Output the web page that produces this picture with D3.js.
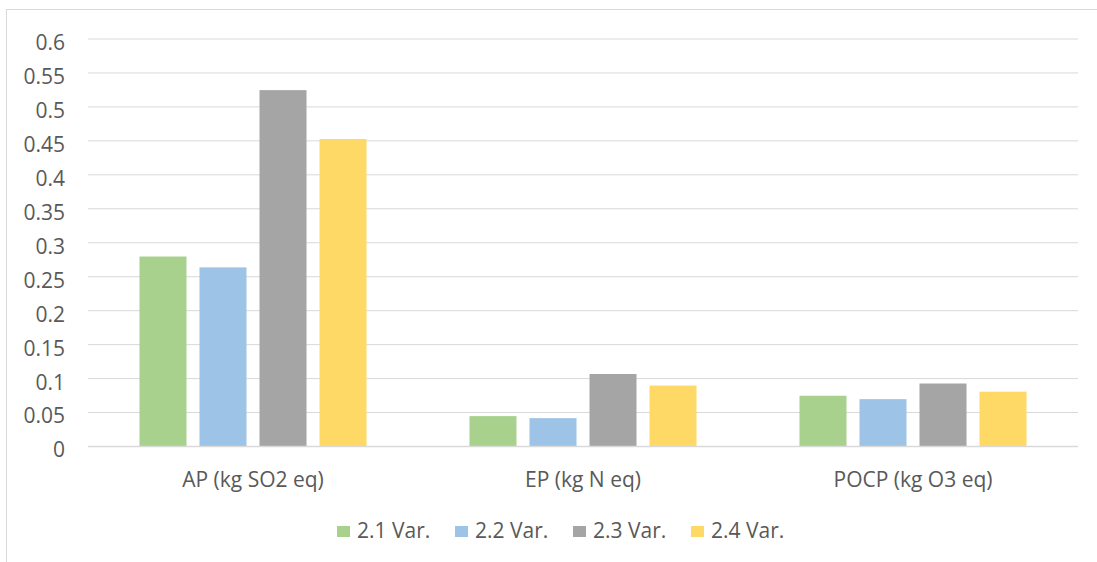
<!DOCTYPE html>
<html>
<head>
<meta charset="utf-8">
<script src="https://cdn.jsdelivr.net/npm/d3@7"></script>
<style>
  html, body { margin: 0; padding: 0; background: #fff; }
  svg { display: block; }
  text { font-family: "Open Sans", sans-serif; fill: #595959; }
</style>
</head>
<body>
<svg id="chart" width="1097" height="562"></svg>
<script>
const categories = ["AP (kg SO2 eq)", "EP (kg N eq)", "POCP (kg O3 eq)"];
const seriesNames = ["2.1 Var.", "2.2 Var.", "2.3 Var.", "2.4 Var."];
const seriesColors = ["#A9D18E", "#9DC3E6", "#A5A5A5", "#FFD966"];
const var21 = [0.279, 0.044, 0.074];
const var22 = [0.263, 0.041, 0.069];
const var23 = [0.524, 0.106, 0.092];
const var24 = [0.452, 0.089, 0.080];
const yTicks = [0, 0.05, 0.1, 0.15, 0.2, 0.25, 0.3, 0.35, 0.4, 0.45, 0.5, 0.55, 0.6];

const seriesValues = [var21, var22, var23, var24];
const FONT = "'Open Sans', sans-serif";
const FS = 21;

const svg = d3.select("#chart");

// outer chart border
svg.append("rect")
  .attr("x", 6.5).attr("y", 9.5)
  .attr("width", 1100).attr("height", 600)
  .attr("fill", "none").attr("stroke", "#D9D9D9").attr("stroke-width", 1);

const plot = { left: 88, right: 1078, top: 38.5, bottom: 446 };

const y = d3.scaleLinear().domain([0, 0.6]).range([plot.bottom, plot.top]);
const x0 = d3.scaleBand().domain(categories).range([plot.left, plot.right]).padding(0);
const x1 = d3.scaleBand().domain(seriesNames).range([0, x0.bandwidth()])
  .paddingInner(13 / 60).paddingOuter(0.858);

// gridlines + tick labels
const yAxis = d3.axisLeft(y).tickValues(yTicks)
  .tickSize(-(plot.right - plot.left))
  .tickFormat(d => String(+d.toFixed(2)));
const gy = svg.append("g")
  .attr("transform", `translate(${plot.left},0)`)
  .call(yAxis);
gy.select(".domain").remove();
gy.selectAll(".tick line").attr("stroke", "#D9D9D9").attr("stroke-width", 1);
gy.selectAll(".tick text")
  .attr("x", -23)
  .attr("dy", "0.52em")
  .attr("font-size", FS)
  .style("font-family", FONT)
  .attr("fill", "#595959");

// bars
const groups = svg.append("g").selectAll("g")
  .data(categories)
  .join("g")
  .attr("transform", d => `translate(${x0(d)},0)`);

groups.selectAll("rect")
  .data((c, ci) => seriesNames.map((s, si) => ({ s, si, v: seriesValues[si][ci] })))
  .join("rect")
  .attr("x", d => x1(d.s))
  .attr("width", x1.bandwidth())
  .attr("y", d => y(d.v))
  .attr("height", d => y(0) - y(d.v))
  .attr("fill", d => seriesColors[d.si]);

// baseline
svg.append("line")
  .attr("x1", plot.left).attr("x2", plot.right)
  .attr("y1", y(0) + 0.5).attr("y2", y(0) + 0.5)
  .attr("stroke", "#D9D9D9").attr("stroke-width", 1.5);

// category labels
const xAxis = d3.axisBottom(x0).tickSize(0).tickPadding(0);
const gx = svg.append("g")
  .attr("transform", `translate(0,${plot.bottom})`)
  .call(xAxis);
gx.select(".domain").remove();
gx.selectAll(".tick text")
  .attr("y", 41)
  .attr("dy", 0)
  .attr("font-size", FS)
  .style("font-family", FONT)
  .attr("fill", "#595959");

// legend
const legendX = [337, 455, 573, 691];
const legend = svg.append("g").selectAll("g")
  .data(seriesNames)
  .join("g")
  .attr("transform", (d, i) => `translate(${legendX[i]},526)`);
legend.append("rect")
  .attr("width", 13).attr("height", 11)
  .attr("fill", (d, i) => seriesColors[i]);
legend.append("text")
  .attr("x", 20).attr("y", 12)
  .attr("font-size", FS)
  .style("font-family", FONT)
  .attr("fill", "#595959")
  .text(d => d);
</script>
</body>
</html>
